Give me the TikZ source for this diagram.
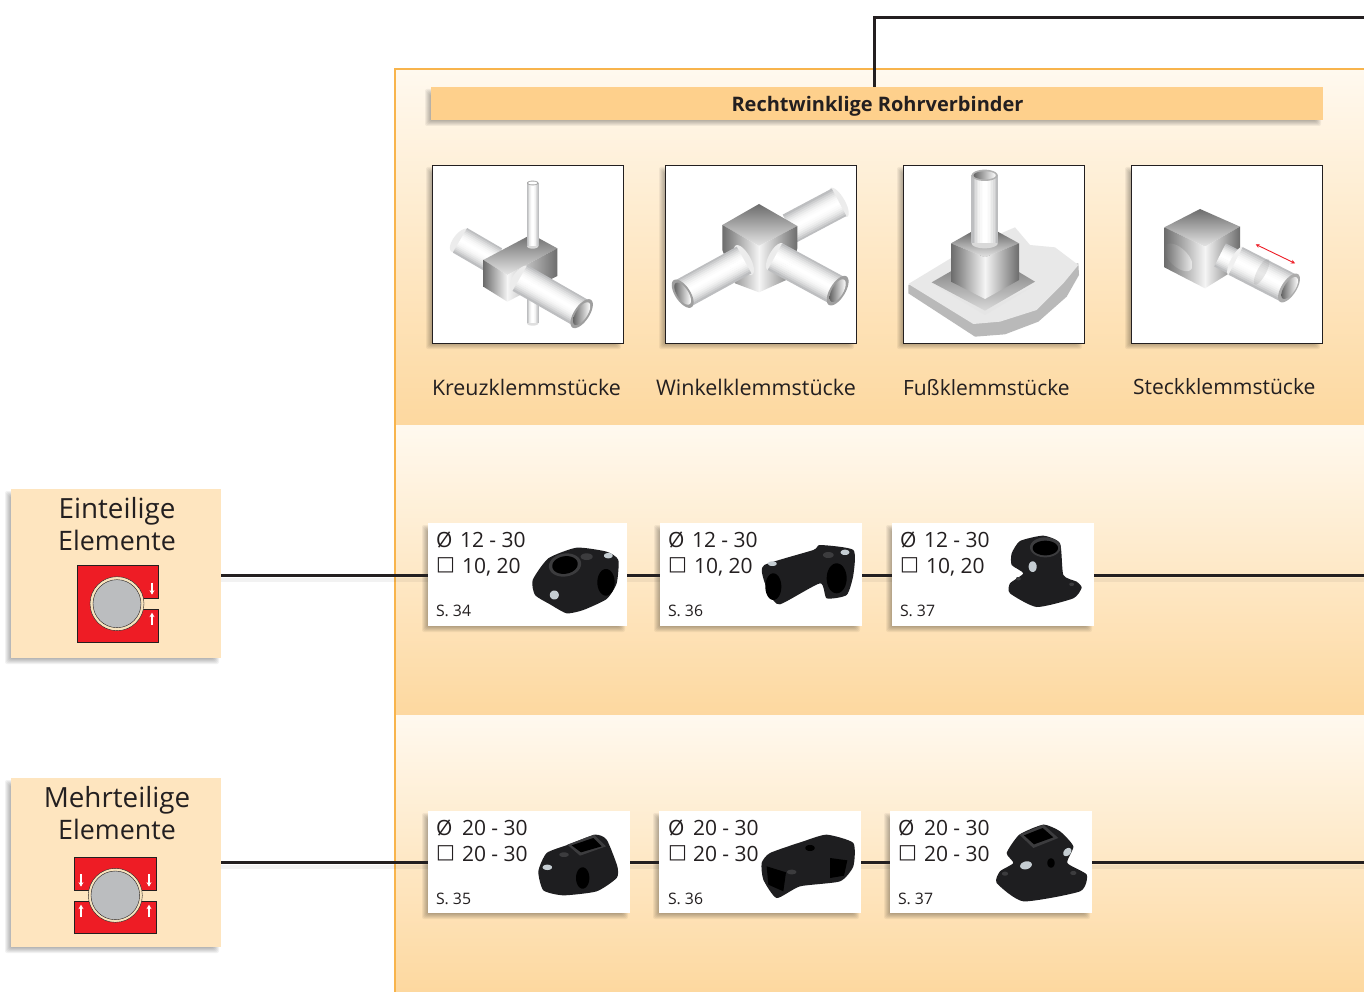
\documentclass[tikz,border=0pt]{standalone}
\usepackage{fontspec}
\setmainfont{Open Sans}
\newfontfamily\symfont{DejaVu Sans}
\usetikzlibrary{arrows.meta,calc}
\definecolor{ink}{HTML}{231F20}
\definecolor{bandlight}{HTML}{FFF9EF}
\definecolor{banddark}{HTML}{FDD89F}
\definecolor{panelline}{HTML}{F8B44C}
\definecolor{headfill}{HTML}{FED08C}
\definecolor{sidefill}{HTML}{FEE5BF}
\definecolor{iconred}{HTML}{EE1C25}
\definecolor{pipegray}{HTML}{BBBDBF}
\definecolor{ringfill}{HTML}{F7E3BD}
\definecolor{tubegray}{HTML}{B4B5B7}
\definecolor{photoblack}{HTML}{1E1E20}
\definecolor{photomid}{HTML}{3C3C3E}
\definecolor{boltgray}{HTML}{C5CDD2}
\tikzset{
  box/.style={inner sep=0pt,outer sep=0pt},
  link/.style={draw=ink,line width=2.5pt},
  linkshade/.style={draw=black,opacity=.05,line width=4pt},
  txt/.style={inner sep=0pt,outer sep=0pt,text=ink,anchor=base west},
  ctxt/.style={inner sep=0pt,outer sep=0pt,text=ink,anchor=base},
  zoomed/.style={x=0.33333pt,y=-0.33333pt},
  cubelight/.style={left color=gray!85!black,right color=white!92!gray},
  cubelightr/.style={left color=white!92!gray,right color=gray!85!black},
  cubetop/.style={top color=gray!85!black,bottom color=white!80!gray},
  body/.style={fill=photoblack},
  facet/.style={fill=photomid},
  bolt/.style={fill=boltgray},
  hole/.style={fill=black},
  redpart/.style={fill=iconred,draw=ink,line width=.5pt},
  whitearrow/.style={draw=white,line width=1.2pt,-{Stealth[length=4.5pt,width=5pt]}},
  blob/.style={smooth cycle,tension=.35},
}
\newcommand\softshadow[4]{%
  \foreach \dd in {6,5,...,0}{%
    \fill[black,opacity=.05,rounded corners=2pt]
      ({#1-\dd},{#2+8-\dd}) rectangle ({#3-8+\dd},{#4+\dd});}}
\newcommand\boxnode[6]{%
  \softshadow{#2}{#3}{#4}{#5}
  \node[box,#6,minimum width={(#4-#2)*1pt},minimum height={(#5-#3)*1pt}]
    (#1) at ({(#2+#4)/2},{(#3+#5)/2}) {};}
\newcommand\tubeseg[5]{%
  \pgfmathsetmacro\tdx{#3-#1}\pgfmathsetmacro\tdy{#4-#2}
  \pgfmathsetmacro\tln{veclen(\tdx,\tdy)}
  \pgfmathsetmacro\tpx{-\tdy/\tln*#5}\pgfmathsetmacro\tpy{\tdx/\tln*#5}
  \pgfmathsetmacro\twd{2*#5/16/3+.45}
  \foreach \kk in {0,...,15}{%
    \pgfmathsetmacro\tpos{(\kk-7.5)/8}
    \pgfmathsetmacro\tcol{100*(1-\tpos*\tpos)}
    \draw[line width=\twd pt,color=white!\tcol!tubegray]
      ({#1+\tpos*\tpx},{#2+\tpos*\tpy}) -- ({#3+\tpos*\tpx},{#4+\tpos*\tpy});}}
\newcommand\ovalshape[7]{%
  \path[#7] plot[domain=0:350,samples=36,smooth cycle]
    ({#1+(#3)*cos(\x)+(#5)*sin(\x)},{#2+(#4)*cos(\x)+(#6)*sin(\x)});}
\newcommand\cardtext[8]{%
  \node[txt,font=\fontsize{21}{25}\selectfont] (#1d) at (#2,#3)
    {\makebox[#4pt][l]{Ø}#5};
  \node[txt,font=\fontsize{21}{25}\selectfont] (#1q) at (#2,{#3+26})
    {\makebox[#6pt][l]{\raisebox{2.2pt}{\symfont\fontsize{20}{24}\selectfont □}}#7};
  \node[txt,font=\fontsize{15.8}{18}\selectfont] (#1s) at (#2,{#3+69}) {#8};}
\begin{document}
\begin{tikzpicture}[x=1pt,y=-1pt]
\useasboundingbox (0,0) rectangle (1364,992);
\fill[white] (0,0) rectangle (1364,992);
% panel bands
\shade[top color=bandlight,bottom color=banddark] (395,69) rectangle (1364,425);
\shade[top color=bandlight,bottom color=banddark] (395,425) rectangle (1364,715);
\shade[top color=bandlight,bottom color=banddark] (395,715) rectangle (1364,992);
\draw[panelline,line width=2.8pt] (395,992) -- (395,69) -- (1364,69);
% header
\boxnode{header}{431}{87}{1323}{120}{fill=headfill}
\node[ctxt,font=\bfseries\fontsize{20}{24}\selectfont] (headtext) at (877.5,111.5) {Rechtwinklige Rohrverbinder};
\coordinate (topend) at (1364,17.5);
\draw[link] ([xshift=-2.5pt]header.north) |- (topend);
% picture frames
\boxnode{fa}{432}{165}{623}{343}{fill=white,draw=ink,line width=.9pt}
\boxnode{fb}{665}{165}{856}{343}{fill=white,draw=ink,line width=.9pt}
\boxnode{fc}{903}{165}{1084}{343}{fill=white,draw=ink,line width=.9pt}
\boxnode{fd}{1131}{165}{1322}{343}{fill=white,draw=ink,line width=.9pt}
% labels
\node[txt,font=\fontsize{21.4}{25}\selectfont] (la) at (432,395) {Kreuzklemmstücke};
\node[txt,font=\fontsize{21.5}{25}\selectfont] (lb) at (656,395) {Winkelklemmstücke};
\node[txt,font=\fontsize{21}{25}\selectfont] (lc) at (903,395) {Fußklemmstücke};
\node[txt,font=\fontsize{21.1}{25}\selectfont] (ld) at (1133,394) {Steckklemmstücke};
% drawing 1 and 2
\begin{scope}[xshift=420pt,yshift=-150pt,zoomed]
  % Kreuz
  \ovalshape{120}{271}{25}{-34}{-17}{-10}{fill=white!85!gray}
  \tubeseg{120}{271}{225}{332}{42}
  \ovalshape{338}{520}{17}{0}{0}{7}{fill=white!75!gray}
  \tubeseg{338}{440}{338}{520}{17}
  \shade[cubetop] (190,330) -- (335,253) -- (412,295) -- (262,375) -- cycle;
  \shade[cubelight] (190,330) -- (262,375) -- (262,455) -- (190,410) -- cycle;
  \shade[cubelightr] (262,375) -- (412,295) -- (412,378) -- (262,455) -- cycle;
  \ovalshape{338}{288}{17}{0}{0}{8}{fill=white!70!gray}
  \tubeseg{338}{99}{338}{288}{17}
  \ovalshape{338}{99}{17}{0}{0}{7}{fill=gray!70}
  \ovalshape{338}{99}{13}{0}{0}{4.5}{fill=white}
  \ovalshape{300}{384}{25}{-36}{18}{10}{fill=white!85!gray}
  \tubeseg{300}{384}{485}{490}{44}
  \ovalshape{485}{491}{27}{-42}{20}{11}{fill=gray!75}
  \ovalshape{485}{491}{21}{-33}{15}{8}{left color=gray!80!black,right color=white}
  % Winkel
  \ovalshape{1257}{157}{25}{43}{-15}{9}{fill=white!85!gray}
  \tubeseg{1257}{157}{1110}{235}{46}
  \shade[cubetop] (907,225) -- (1017,162) -- (1132,228) -- (1017,288) -- cycle;
  \shade[cubelight] (907,225) -- (1017,288) -- (1017,427) -- (945,400) -- (907,300) -- cycle;
  \shade[cubelightr] (1017,288) -- (1132,228) -- (1132,295) -- (1110,385) -- (1017,427) -- cycle;
  \ovalshape{972}{330}{24}{44}{18}{-8}{fill=white!85!gray}
  \tubeseg{788}{431}{972}{330}{45}
  \ovalshape{788}{431}{26}{41}{20}{-11}{fill=gray!75}
  \ovalshape{788}{431}{20}{32}{15}{-8}{left color=gray!80!black,right color=white}
  \ovalshape{1065}{320}{22}{-40}{16}{8}{fill=white!85!gray}
  \tubeseg{1065}{320}{1253}{422}{45}
  \ovalshape{1253}{422}{26}{-43}{20}{11}{fill=gray!75}
  \ovalshape{1253}{422}{19}{-33}{15}{8}{left color=gray!80!black,right color=white}
\end{scope}
% drawing 3 and 4
\begin{scope}[xshift=890pt,yshift=-150pt,zoomed]
  % Fuss
  \fill[gray!55] (55,405) -- (55,430) -- (255,560) -- (345,553) -- (445,515) -- (530,440) -- (567,375) -- (565,340) -- cycle;
  \fill[gray!18] (55,402) -- (240,290) -- (375,232) -- (420,285) -- (495,292) -- (565,345) -- (520,400) -- (440,480) -- (330,515) -- (250,522) -- cycle;
  \fill[white!80!gray] (125,400) -- (285,495) -- (435,405) -- (285,482) -- cycle;
  \shade[top color=gray!80!black,bottom color=gray!30] (125,397) -- (285,305) -- (435,395) -- (285,482) -- cycle;
  \shade[cubetop] (183,280) -- (245,245) -- (323,245) -- (387,280) -- (285,322) -- cycle;
  \shade[cubelight] (183,280) -- (285,322) -- (285,447) -- (183,395) -- cycle;
  \shade[cubelightr] (285,322) -- (387,280) -- (387,390) -- (285,447) -- cycle;
  \ovalshape{284}{280}{39}{0}{0}{15}{fill=white!70!gray}
  \tubeseg{284}{76}{284}{280}{39}
  \ovalshape{284}{76}{39}{0}{0}{17}{fill=gray!60}
  \ovalshape{284}{76}{33}{0}{0}{12}{left color=gray!80!black,right color=white}
  % Steck
  \shade[cubetop] (823,232) -- (930,177) -- (1050,230) -- (945,290) -- cycle;
  \shade[cubelight] (823,232) -- (945,290) -- (945,415) -- (823,352) -- cycle;
  \shade[cubelightr] (945,290) -- (1050,230) -- (1050,350) -- (945,415) -- cycle;
  \ovalshape{865}{322}{30}{41}{30}{-7}{left color=gray!85!black,right color=gray!15}
  \tubeseg{990}{315}{1080}{360}{38}
  \ovalshape{1037}{333}{22}{-42}{13}{7}{fill=white!88!gray}
  \tubeseg{1037}{333}{1195}{414}{46}
  \ovalshape{1115}{365}{20}{-38}{12}{6}{fill=gray,opacity=.18}
  \ovalshape{1197}{414}{26}{-42}{20}{10}{fill=gray!65}
  \ovalshape{1199}{414}{20}{-32}{15}{7}{left color=gray!80!black,right color=white}
  \draw[iconred,line width=.9pt,{Stealth[length=4pt,width=4pt]}-{Stealth[length=4pt,width=4pt]}] (1097,283) -- (1215,340);
\end{scope}
% side boxes
\boxnode{one}{11}{489}{221}{658}{fill=sidefill}
\boxnode{many}{11}{778}{221}{947}{fill=sidefill}
\node[ctxt,font=\fontsize{27.8}{32}\selectfont] (onea) at (117,518) {Einteilige};
\node[ctxt,font=\fontsize{26.8}{32}\selectfont] (oneb) at (117,550) {Elemente};
\node[ctxt,font=\fontsize{27.8}{32}\selectfont] (manya) at (117,807) {Mehrteilige};
\node[ctxt,font=\fontsize{26.8}{32}\selectfont] (manyb) at (117,839) {Elemente};
\begin{scope}[yshift=-480pt,zoomed]
  \path[redpart] (232,256) -- (476,256) -- (476,355) -- (425,355) -- (425,387) -- (476,387) -- (476,486) -- (232,486) -- cycle;
  \fill[ringfill,draw=ink,line width=.4pt] (351,371) circle [radius=81];
  \fill[pipegray,draw=ink,line width=.4pt] (351,371) circle [radius=72];
  \draw[whitearrow] (456,308) -- (456,344);
  \draw[whitearrow] (456,434) -- (456,398);
\end{scope}
\begin{scope}[yshift=-770pt,zoomed]
  \path[redpart] (222,262) -- (468,262) -- (468,360) -- (222,360) -- cycle;
  \path[redpart] (222,393) -- (468,393) -- (468,491) -- (222,491) -- cycle;
  \fill[sidefill] (262,362) rectangle (430,391);
  \fill[ringfill,draw=ink,line width=.4pt] (346,376) circle [radius=81];
  \fill[pipegray,draw=ink,line width=.4pt] (346,376) circle [radius=73];
  \foreach \ax in {243,447}{%
    \draw[whitearrow] (\ax,312) -- (\ax,350);
    \draw[whitearrow] (\ax,441) -- (\ax,404);}
\end{scope}
% cards
\boxnode{ca}{428}{523}{627}{626}{fill=white}
\boxnode{cb}{660}{523}{862}{626}{fill=white}
\boxnode{cc}{892}{523}{1094}{626}{fill=white}
\boxnode{cd}{428}{811}{630}{913}{fill=white}
\boxnode{ce}{659}{811}{861}{913}{fill=white}
\boxnode{cf}{890}{811}{1092}{913}{fill=white}
\cardtext{ca}{436}{547}{24}{12 - 30}{26}{10, 20}{S. 34}
\cardtext{cb}{668}{547}{24}{12 - 30}{26}{10, 20}{S. 36}
\cardtext{cc}{900}{547}{24}{12 - 30}{26}{10, 20}{S. 37}
\cardtext{cd}{436}{835}{26}{20 - 30}{26}{20 - 30}{S. 35}
\cardtext{ce}{668}{835}{25}{20 - 30}{25}{20 - 30}{S. 36}
\cardtext{cf}{898}{835}{26}{20 - 30}{26}{20 - 30}{S. 37}
% connectors
\coordinate (endone) at (1364,575.5);
\coordinate (endmany) at (1364,862.5);
\foreach \aa/\bb/\yy in {one/ca/575.5,ca/cb/575.5,cb/cc/575.5,cc/endone/575.5,many/cd/862.5,cd/ce/862.5,ce/cf/862.5,cf/endmany/862.5}{%
  \draw[linkshade] (\aa.east |- 0,\yy+4) -- (\bb.west |- 0,\yy+4);
  \draw[link] (\aa.east |- 0,\yy) -- (\bb.west |- 0,\yy);}
% photos
\begin{scope}[xshift=420pt,yshift=-515pt,zoomed]
  \path[body] plot[blob] coordinates {(338,195) (385,130) (470,98) (560,110) (595,135) (590,205) (560,252) (490,285) (440,295) (390,268) (345,240)};
  \ovalshape{435}{150}{48}{-8}{6}{34}{facet}
  \ovalshape{435}{150}{38}{-6}{4}{26}{hole}
  \ovalshape{558}{202}{26}{0}{0}{40}{hole}
  \ovalshape{500}{125}{18}{0}{0}{10}{facet}
  \ovalshape{565}{122}{13}{0}{0}{8}{bolt}
  \ovalshape{403}{240}{12}{-6}{6}{12}{bolt}
  \path[body] plot[blob] coordinates {(1033,150) (1180,105) (1200,90) (1300,105) (1300,180) (1280,240) (1220,250) (1200,205) (1080,268) (1050,240) (1030,190)};
  \ovalshape{1060}{215}{24}{0}{0}{40}{hole}
  \ovalshape{1250}{190}{30}{0}{0}{45}{hole}
  \ovalshape{1225}{120}{16}{0}{0}{9}{facet}
  \ovalshape{1057}{146}{13}{0}{0}{7}{bolt}
  \ovalshape{1275}{112}{13}{0}{0}{8}{bolt}
\end{scope}
\begin{scope}[xshift=860pt,yshift=-515pt,zoomed]
  \path[body] plot[blob] coordinates {(455,115) (480,78) (550,62) (600,85) (610,180) (650,200) (665,218) (640,250) (530,276) (450,235) (450,205) (490,175) (455,150)};
  \ovalshape{556}{97}{46}{0}{0}{30}{facet}
  \ovalshape{556}{99}{38}{0}{0}{22}{hole}
  \ovalshape{518}{155}{12}{0}{0}{16}{bolt}
  \ovalshape{475}{191}{7}{0}{0}{5}{facet}
  \ovalshape{635}{208}{7}{0}{0}{5}{facet}
\end{scope}
\begin{scope}[xshift=420pt,yshift=-803pt,zoomed]
  \path[body] plot[blob] coordinates {(355,205) (380,150) (445,125) (525,95) (560,110) (592,190) (590,225) (530,265) (430,277) (370,262)};
  \fill[photomid] (442,125) -- (522,95) -- (558,130) -- (480,158) -- cycle;
  \fill[black] (455,127) -- (520,105) -- (545,130) -- (483,148) -- cycle;
  \ovalshape{488}{225}{20}{0}{0}{32}{hole}
  \ovalshape{432}{155}{14}{0}{0}{7}{facet}
  \ovalshape{382}{193}{14}{0}{0}{8}{bolt}
  \path[body] plot[blob] coordinates {(1025,180) (1050,150) (1150,115) (1220,95) (1300,120) (1300,190) (1260,235) (1140,250) (1070,285) (1030,230)};
  \fill[black] (1040,190) -- (1098,208) -- (1090,265) -- (1045,245) -- cycle;
  \fill[black] (1230,165) -- (1282,172) -- (1272,218) -- (1230,225) -- cycle;
  \ovalshape{1170}{135}{14}{0}{0}{9}{hole}
  \ovalshape{1115}{207}{14}{0}{0}{7}{facet}
\end{scope}
\begin{scope}[xshift=860pt,yshift=-803pt,zoomed]
  \path[body] plot[blob] coordinates {(478,95) (550,65) (600,85) (640,130) (622,180) (680,215) (660,265) (490,295) (410,240) (420,205) (460,180) (440,150)};
  \fill[photomid] (478,95) -- (550,65) -- (595,105) -- (520,135) -- cycle;
  \fill[black] (492,97) -- (548,75) -- (580,103) -- (522,124) -- cycle;
  \ovalshape{498}{187}{17}{-5}{4}{11}{bolt}
  \ovalshape{622}{147}{10}{-10}{7}{7}{bolt}
  \ovalshape{573}{180}{11}{0}{0}{14}{hole}
  \ovalshape{435}{212}{9}{0}{0}{6}{facet}
  \ovalshape{640}{210}{9}{0}{0}{6}{facet}
\end{scope}
\end{tikzpicture}
\end{document}
